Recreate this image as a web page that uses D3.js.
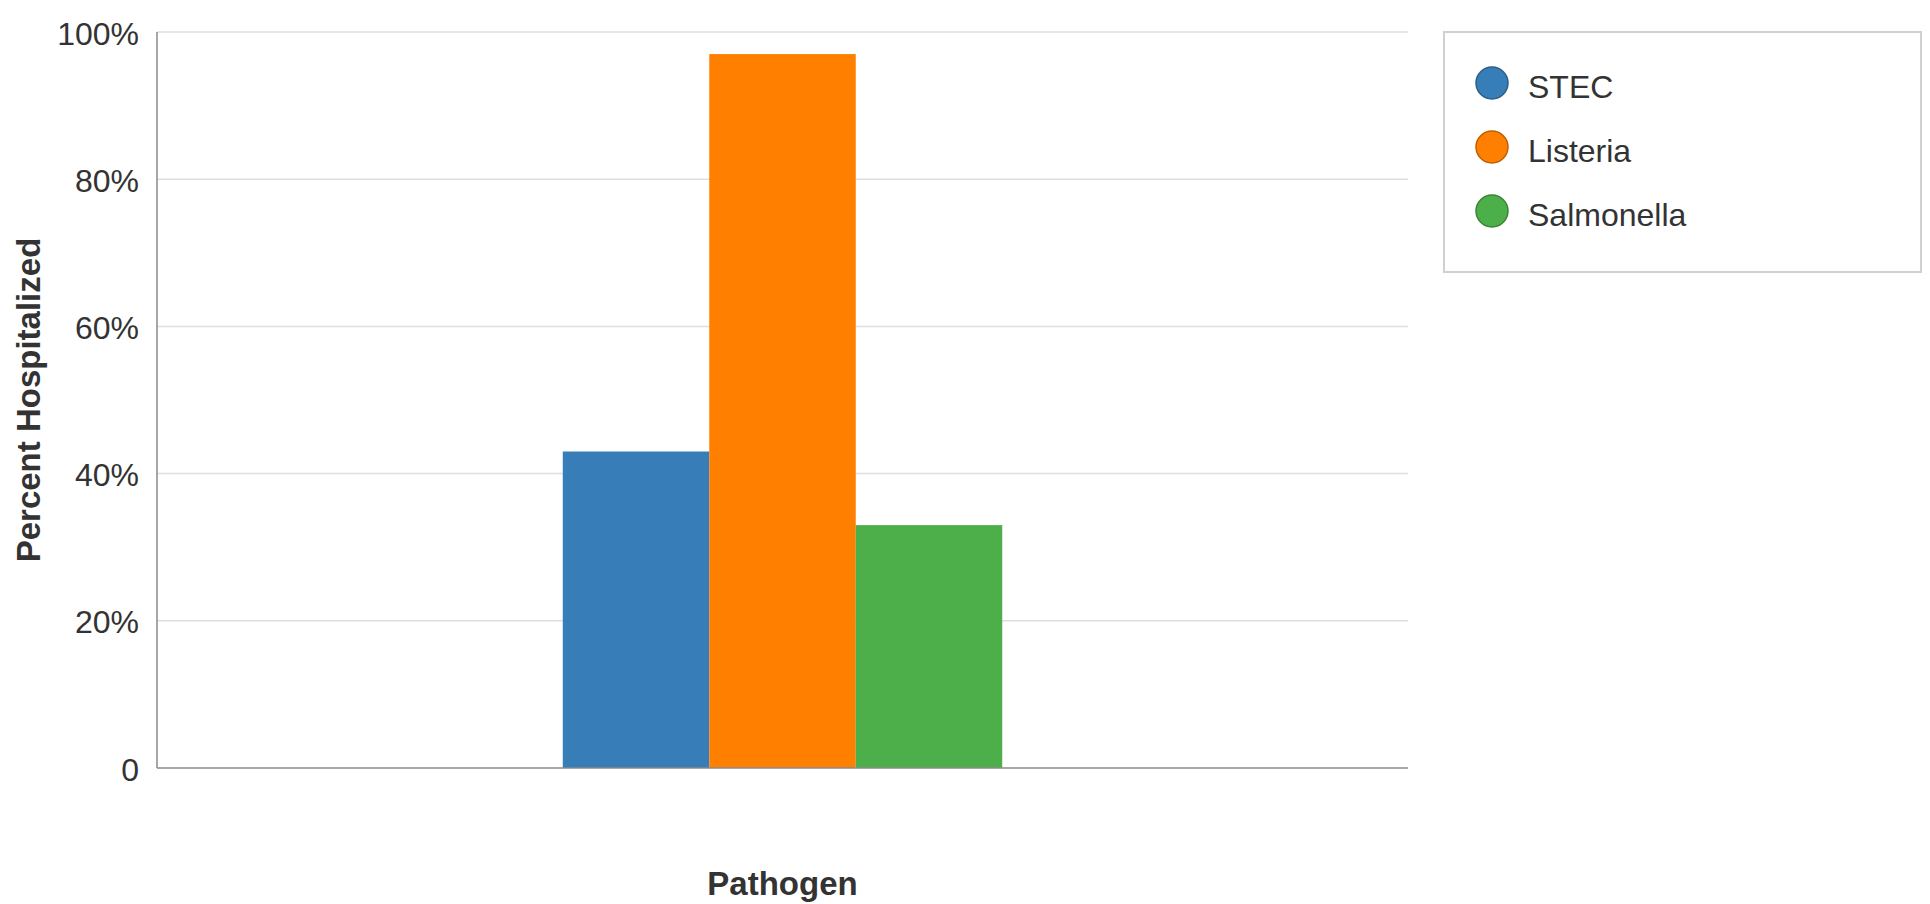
<!DOCTYPE html>
<html>
<head>
<meta charset="utf-8">
<script src="https://cdn.jsdelivr.net/npm/d3@7"></script>
<style>
  body { margin: 0; background: #fff; }
  svg { display: block; font-family: "Liberation Sans", Arial, sans-serif; }
</style>
</head>
<body>
<svg id="chart" width="1930" height="904"></svg>
<script>
// data
const categories = [""];
const seriesNames = ["STEC", "Listeria", "Salmonella"];
const seriesValues = [43, 97, 33];
const seriesColors = ["#377eb8", "#ff7f00", "#4daf4a"];
const yTicks = [0, 20, 40, 60, 80, 100];

const svg = d3.select("#chart"),
    width = +svg.attr("width"),
    height = +svg.attr("height");

const margin = {top: 32, right: 522, bottom: 136, left: 157};
const plotW = width - margin.left - margin.right,
    plotH = height - margin.top - margin.bottom;

const g = svg.append("g")
  .attr("transform", `translate(${margin.left},${margin.top})`);

const y = d3.scaleLinear().domain([0, 100]).range([plotH, 0]);
const x0 = d3.scaleBand().domain(categories).range([0, plotW]).padding(0);
const x1 = d3.scaleBand().domain(seriesNames)
  .range([0, x0.bandwidth()])
  .paddingInner(0)
  .paddingOuter(2.77);
const color = d3.scaleOrdinal().domain(seriesNames).range(seriesColors);

// gridlines
g.append("g")
  .selectAll("line")
  .data(yTicks.filter(d => d > 0))
  .join("line")
    .attr("x1", 0)
    .attr("x2", plotW)
    .attr("y1", d => y(d))
    .attr("y2", d => y(d))
    .attr("stroke", "#dedede")
    .attr("stroke-width", 1.5);

// y axis labels
const yAxis = d3.axisLeft(y)
  .tickValues(yTicks)
  .tickSize(0)
  .tickPadding(18)
  .tickFormat(d => d === 0 ? "0" : d + "%");

g.append("g")
  .call(yAxis)
  .call(a => a.select(".domain").remove())
  .selectAll("text")
    .attr("dy", "0.38em")
    .style("font-size", "32px")
    .style("fill", "#333");

// bars
const data = categories.map((c, ci) => ({
  category: c,
  values: seriesNames.map((s, i) => ({key: s, value: seriesValues[i]}))
}));

g.append("g")
  .selectAll("g")
  .data(data)
  .join("g")
    .attr("transform", d => `translate(${x0(d.category)},0)`)
  .selectAll("rect")
  .data(d => d.values)
  .join("rect")
    .attr("x", d => x1(d.key))
    .attr("y", d => y(d.value))
    .attr("width", x1.bandwidth())
    .attr("height", d => plotH - y(d.value))
    .attr("fill", d => color(d.key));

// axis lines
g.append("line")
  .attr("x1", 0).attr("x2", 0)
  .attr("y1", 0).attr("y2", plotH)
  .attr("stroke", "#8a8a8a").attr("stroke-width", 1.5);
g.append("line")
  .attr("x1", 0).attr("x2", plotW)
  .attr("y1", plotH).attr("y2", plotH)
  .attr("stroke", "#8a8a8a").attr("stroke-width", 1.5);

// axis titles
svg.append("text")
  .attr("transform", `translate(40,${margin.top + plotH / 2}) rotate(-90)`)
  .attr("text-anchor", "middle")
  .style("font-size", "33px")
  .style("font-weight", "bold")
  .style("fill", "#333")
  .text("Percent Hospitalized");

svg.append("text")
  .attr("x", margin.left + plotW / 2)
  .attr("y", 895)
  .attr("text-anchor", "middle")
  .style("font-size", "33px")
  .style("font-weight", "bold")
  .style("fill", "#333")
  .text("Pathogen");

// legend
const legend = svg.append("g").attr("transform", "translate(1444,32)");
legend.append("rect")
  .attr("width", 477)
  .attr("height", 240)
  .attr("fill", "#fff")
  .attr("stroke", "#d0d0d0")
  .attr("stroke-width", 2);

const items = legend.selectAll("g.item")
  .data(seriesNames)
  .join("g")
    .attr("class", "item")
    .attr("transform", (d, i) => `translate(48,${51 + i * 64})`);

items.append("circle")
  .attr("r", 16)
  .attr("fill", d => color(d))
  .attr("stroke", d => d3.color(color(d)).darker(0.8))
  .attr("stroke-width", 1.5);

items.append("text")
  .attr("x", 36)
  .attr("y", 15)
  .style("font-size", "32px")
  .style("fill", "#333")
  .text(d => d);
</script>
</body>
</html>
